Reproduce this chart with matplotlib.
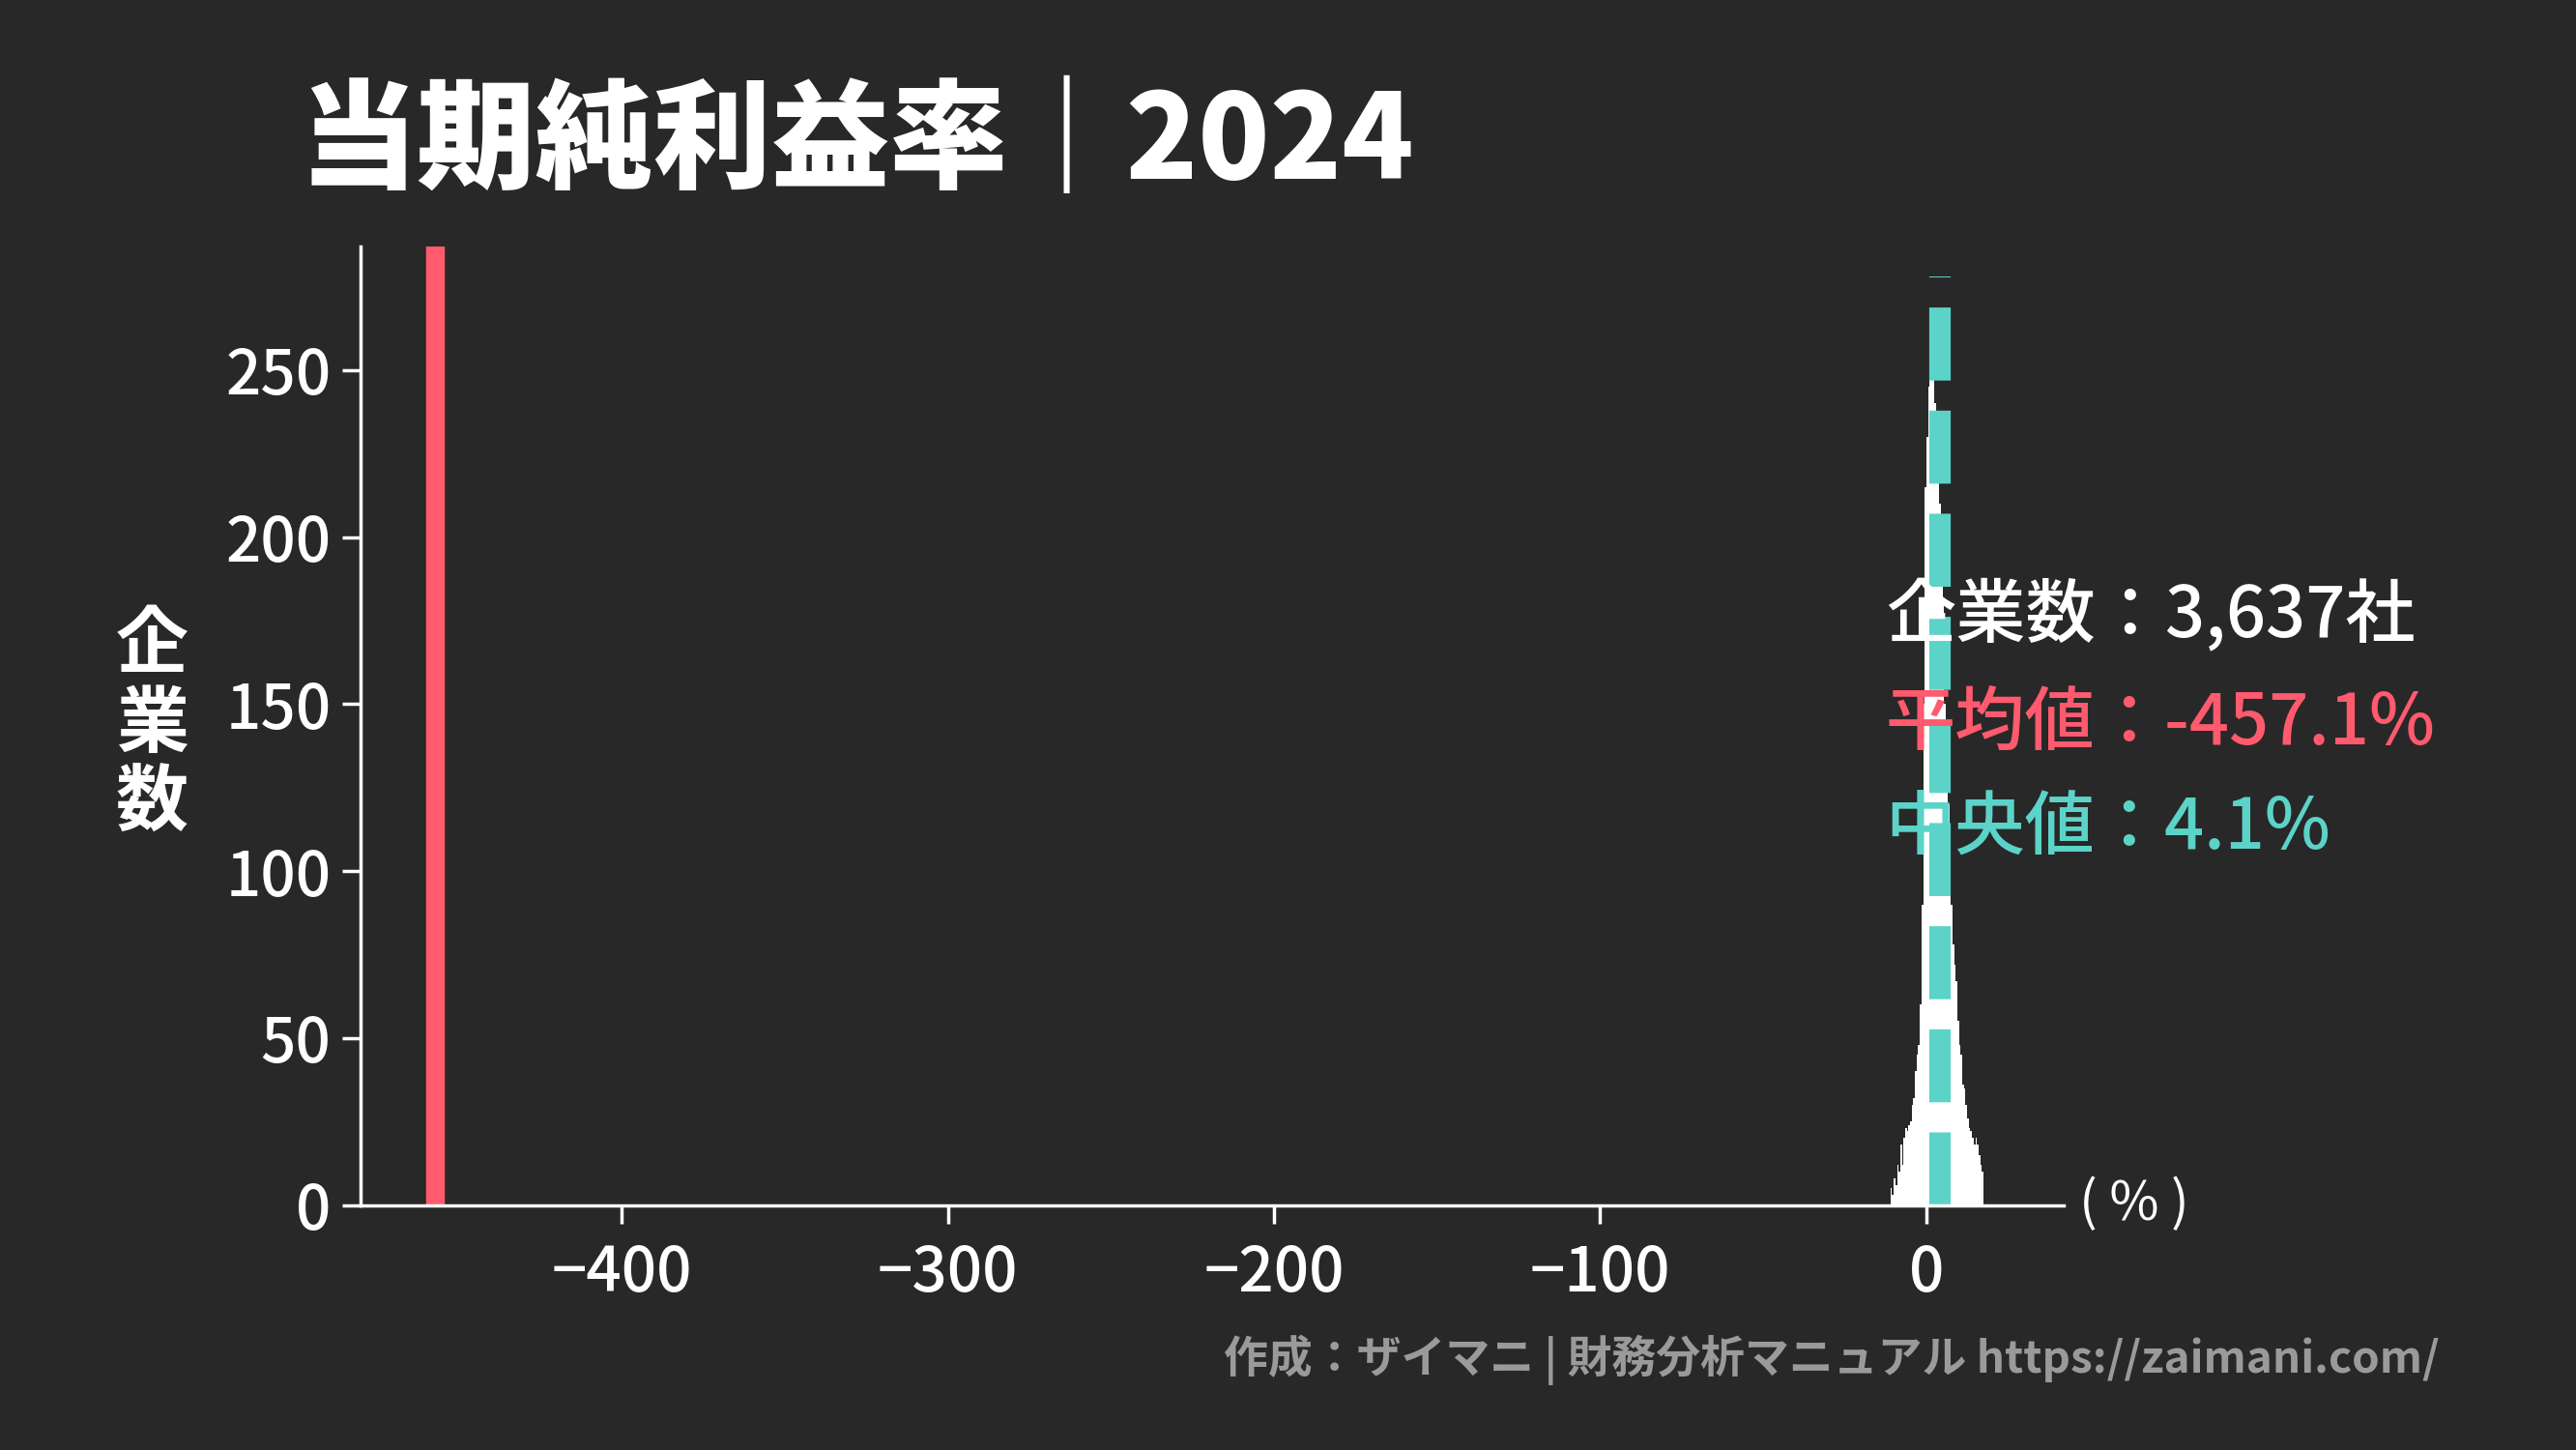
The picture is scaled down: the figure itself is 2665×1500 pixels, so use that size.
import matplotlib
matplotlib.use("Agg")
import matplotlib.pyplot as plt
import numpy as np

plt.rcParams['font.family'] = ['Noto Sans CJK JP', 'DejaVu Sans']

bin_start, bin_step = -11.0, 0.5
counts = [5,3,8,6,12,10,
          18,12,20,23,22,24,
          25,30,32,40,45,48,
          60,90,150,215,
          230,245,260,255,250,240,
          225,230,210,195,180,150,
          138,120,95,90,78,72,
          67,55,48,45,36,35,
          30,26,23,22,20,18,
          20,18,15,12,10]
mean_val = -457.1
median_val = 4.1
n_companies = 3637
xticks = [-400, -300, -200, -100, 0]
yticks = [0, 50, 100, 150, 200, 250]

BG = '#282828'
RED = '#ff5a6e'
TEAL = '#5cd3c8'

fig = plt.figure(figsize=(26.65, 15), dpi=100, facecolor=BG)
ax = fig.add_axes([0.140, 0.169, 0.661, 0.661], facecolor=BG)

edges = bin_start + bin_step * np.arange(len(counts) + 1)
ax.bar(edges[:-1], counts, width=bin_step, align='edge', color='white', linewidth=0)

ax.axvline(mean_val, color=RED, linewidth=14)
ax.plot([median_val, median_val], [0, 278], color=TEAL, linewidth=16,
        dashes=(3.4, 1.4), solid_capstyle='butt')

ax.set_xlim(-480, 42)
ax.set_ylim(0, 287)
ax.set_xticks(xticks)
ax.set_xticklabels([str(t).replace('-', '−') for t in xticks])
ax.set_yticks(yticks)
for s in ['top', 'right']:
    ax.spines[s].set_visible(False)
for s in ['left', 'bottom']:
    ax.spines[s].set_color('white')
    ax.spines[s].set_linewidth(2.5)
ax.tick_params(colors='white', labelsize=46, length=14, width=2.5, pad=8)
ax.tick_params(axis='x', pad=14)
for lab in ax.get_xticklabels() + ax.get_yticklabels():
    lab.set_fontweight('medium')

fig.text(0.116, 0.901, '当期純利益率｜2024', color='white', fontsize=88,
         fontweight='heavy', ha='left', va='center')
fig.text(0.059, 0.50, '企\n業\n数', color='white', fontsize=54, fontweight='bold',
         ha='center', va='center', linespacing=1.1)
fig.text(0.807, 0.169, '( % )', color='white', fontsize=40, ha='left', va='center')

fig.text(0.732, 0.575, f'企業数：{n_companies:,}社', color='white', fontsize=52,
         fontweight='medium', ha='left', va='center')
fig.text(0.732, 0.501, f'平均値：{mean_val:.1f}%', color=RED, fontsize=52,
         fontweight='medium', ha='left', va='center')
fig.text(0.732, 0.428, f'中央値：{median_val:.1f}%', color=TEAL, fontsize=52,
         fontweight='medium', ha='left', va='center')

fig.text(0.947, 0.062, '作成：ザイマニ | 財務分析マニュアル https://zaimani.com/',
         color='#9a9a9a', fontsize=33, fontweight='bold', ha='right', va='center')

fig.savefig('out.png', facecolor=BG)
